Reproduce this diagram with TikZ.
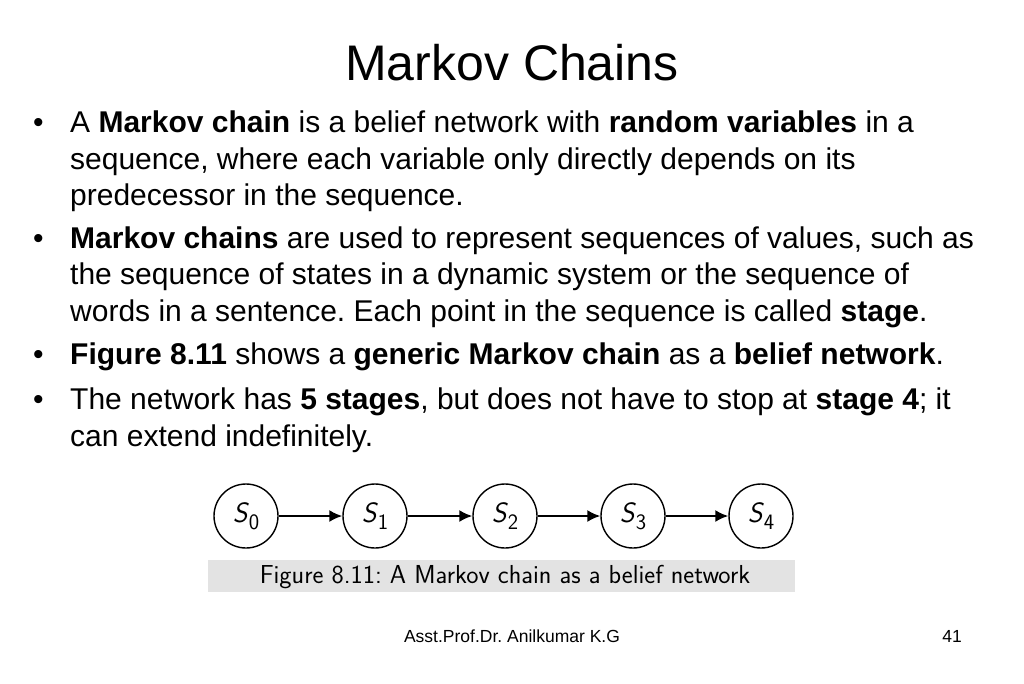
\documentclass[tikz,border=0pt]{standalone}
\usepackage{fontspec}
\setmainfont{Liberation Sans}
\usetikzlibrary{arrows.meta}
\frenchspacing
\begin{document}
\begin{tikzpicture}[x=1pt,y=-1pt,
  ln/.style={anchor=base west,inner sep=0pt,font=\fontsize{30}{34}\selectfont},
  st/.style={draw,line width=1.4pt,circle,minimum size=64pt,inner sep=0pt,font=\fontfamily{lmss}\fontsize{28}{30}\selectfont},
  ar/.style={-{Latex[length=13pt,width=12pt]},line width=2pt}]
\useasboundingbox (0,0) rectangle (1024,683);
\node[anchor=base,inner sep=0pt,font=\fontsize{50}{54}\selectfont] (title) at (512,80) {Markov Chains};
\foreach \y in {132,248,364,409} \node[ln] at (33,\y) {•};
\node[ln] (l1) at (70,132) {A \textbf{Markov chain} is a belief network with \textbf{random variables} in a};
\node[ln] (l2) at (70,169) {sequence, where each variable only directly depends on its};
\node[ln] (l3) at (70,205) {predecessor in the sequence.};
\node[ln] (l4) at (70,248) {\textbf{Markov chains} are used to represent sequences of values, such as};
\node[ln] (l5) at (70,284) {the sequence of states in a dynamic system or the sequence of};
\node[ln] (l6) at (70,321) {words in a sentence. Each point in the sequence is called \textbf{stage}.};
\node[ln] (l7) at (70,364) {\textbf{Figure 8.11} shows a \textbf{generic Markov chain} as a \textbf{belief network}.};
\node[ln] (l8) at (70,409) {The network has \textbf{5 stages}, but does not have to stop at \textbf{stage 4}; it};
\node[ln] (l9) at (70,446) {can extend indefinitely.};
\foreach \i/\x in {0/246,1/375,2/505,3/633,4/761}
  \node[st] (s\i) at (\x,516) {\textit{S}\raisebox{-7pt}{\fontsize{22}{24}\selectfont\i}};
\foreach \i/\j in {0/1,1/2,2/3,3/4} \draw[ar] (s\i) -- (s\j);
\fill[gray!22] (208,560) rectangle (795,592);
\node[inner sep=0pt,font=\fontfamily{lmss}\fontsize{26}{28}\selectfont] (cap) at (505,577) {Figure 8.11: A Markov chain as a belief network};
\node[anchor=base,inner sep=0pt,font=\fontsize{17.5}{20}\selectfont] (auth) at (512,642) {Asst.Prof.Dr. Anilkumar K.G};
\node[anchor=base,inner sep=0pt,font=\fontsize{17.5}{20}\selectfont] (pg) at (952,642) {41};
\end{tikzpicture}
\end{document}
